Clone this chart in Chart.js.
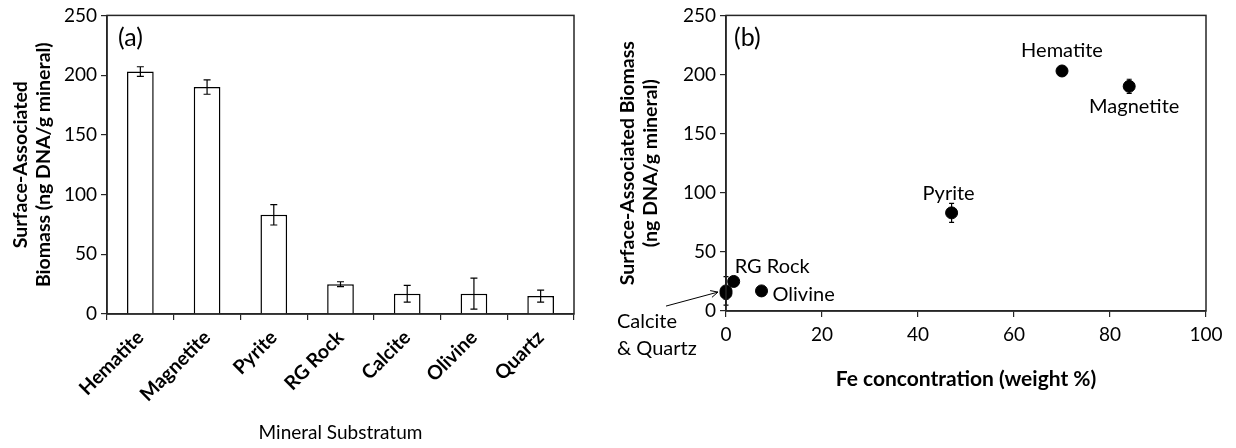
<!DOCTYPE html>
<html>
<head>
<meta charset="utf-8">
<script src="https://cdn.jsdelivr.net/npm/chart.js@4"></script>
<style>
  body { margin: 0; background: #fff; }
  #wrap { position: relative; width: 1236px; height: 448px; }
  #chartA { position: absolute; left: 0; top: 0; }
  #chartB { position: absolute; left: 600px; top: 0; }
</style>
</head>
<body>
<div id="wrap">
  <canvas id="chartA" width="600" height="448"></canvas>
  <canvas id="chartB" width="636" height="448"></canvas>
</div>
<script>
const minerals = ["Hematite", "Magnetite", "Pyrite", "RG Rock", "Calcite", "Olivine", "Quartz"];
const biomass = [203, 190, 83, 25, 17, 17, 15];
const biomassErr = [4, 6, 8.5, 2, 7, 13, 5];
const feConc = [70, 84, 47, 1.6, 0, 7.4, 0];
const biomassErrB = [4, 6, 8, 2, 12, 0, 5];

const FONT = "Lato, 'Open Sans', sans-serif";
const ink = "#000";
const axisColor = "#262626";

Chart.defaults.font.family = FONT;
Chart.defaults.color = ink;

// frame around the plot area (top + right side too)
const boxPlugin = {
  id: "box",
  afterDraw(chart) {
    const { ctx, chartArea: a } = chart;
    ctx.save();
    ctx.strokeStyle = axisColor;
    ctx.lineWidth = 1.5;
    ctx.strokeRect(a.left, a.top, a.right - a.left, a.bottom - a.top);
    ctx.restore();
  },
};

function drawErr(ctx, x, yScale, v, e, cap) {
  if (!e) return;
  const y1 = yScale.getPixelForValue(v + e);
  const y2 = yScale.getPixelForValue(v - e);
  ctx.beginPath();
  ctx.moveTo(x, y1); ctx.lineTo(x, y2);
  ctx.moveTo(x - cap, y1); ctx.lineTo(x + cap, y1);
  ctx.moveTo(x - cap, y2); ctx.lineTo(x + cap, y2);
  ctx.stroke();
}

const errPluginA = {
  id: "errA",
  afterDatasetsDraw(chart) {
    const ctx = chart.ctx;
    const meta = chart.getDatasetMeta(0);
    ctx.save();
    ctx.strokeStyle = ink;
    ctx.lineWidth = 1.2;
    meta.data.forEach((bar, i) => drawErr(ctx, bar.x, chart.scales.y, biomass[i], biomassErr[i], 3.5));
    ctx.fillStyle = ink;
    ctx.font = "25px " + FONT;
    ctx.textBaseline = "middle";
    ctx.fillText("(a)", chart.chartArea.left + 11, chart.chartArea.top + 23);
    ctx.restore();
  },
};

// label placement for panel b: [dx, dy, align]
const labelPos = {
  "Hematite": [0, -20, "center"],
  "Magnetite": [5, 20, "center"],
  "Pyrite": [-3, -19, "center"],
  "RG Rock": [1, -15, "left"],
  "Olivine": [11, 4, "left"],
};

const errPluginB = {
  id: "errB",
  afterDatasetsDraw(chart) {
    const ctx = chart.ctx;
    const xs = chart.scales.x, ys = chart.scales.y;
    ctx.save();
    ctx.strokeStyle = ink;
    ctx.lineWidth = 1.2;
    minerals.forEach((m, i) => drawErr(ctx, xs.getPixelForValue(feConc[i]), ys, biomass[i], biomassErrB[i], 2.5));

    ctx.fillStyle = ink;
    ctx.font = "20px " + FONT;
    ctx.textBaseline = "middle";
    minerals.forEach((m, i) => {
      const p = labelPos[m];
      if (!p) return;
      ctx.textAlign = p[2];
      ctx.fillText(m, xs.getPixelForValue(feConc[i]) + p[0], ys.getPixelForValue(biomass[i]) + p[1]);
    });

    // Calcite & Quartz share x = 0
    const px = xs.getPixelForValue(0), py = ys.getPixelForValue(16);
    ctx.textAlign = "left";
    ctx.fillText("Calcite", px - 109, py + 29);
    ctx.fillText("& Quartz", px - 109, py + 56);
    const sx = px - 60, sy = py + 14, ex = px - 8, ey = py;
    const ang = Math.atan2(ey - sy, ex - sx);
    ctx.lineWidth = 1;
    ctx.beginPath();
    ctx.moveTo(sx, sy); ctx.lineTo(ex, ey);
    ctx.moveTo(ex - 8 * Math.cos(ang - 0.45), ey - 8 * Math.sin(ang - 0.45));
    ctx.lineTo(ex, ey);
    ctx.lineTo(ex - 8 * Math.cos(ang + 0.45), ey - 8 * Math.sin(ang + 0.45));
    ctx.stroke();

    ctx.font = "25px " + FONT;
    ctx.fillText("(b)", chart.chartArea.left + 8, chart.chartArea.top + 23);
    ctx.restore();
  },
};

const tickFont = { size: 19 };
const yTitle = (lines, padTop) => ({
  display: true,
  text: lines,
  font: { size: 19.5, weight: "bold", lineHeight: 1.15 },
  padding: { top: padTop, bottom: 0 },
});

new Chart(document.getElementById("chartA"), {
  type: "bar",
  data: {
    labels: minerals,
    datasets: [{
      data: biomass,
      backgroundColor: "#fff",
      borderColor: ink,
      borderWidth: 1.5,
      barPercentage: 0.4,
      categoryPercentage: 1,
    }],
  },
  options: {
    responsive: false,
    animation: false,
    layout: { padding: { top: 15, right: 26, left: 0, bottom: 0 } },
    plugins: { legend: { display: false }, tooltip: { enabled: false } },
    scales: {
      x: {
        grid: { offset: true, drawOnChartArea: false, tickLength: 6, color: axisColor, lineWidth: 1.2 },
        border: { color: axisColor, width: 1.5 },
        ticks: { font: { size: 19.5, weight: "bold" }, minRotation: 45, maxRotation: 45, autoSkip: false, padding: 6 },
        title: { display: true, text: "Mineral Substratum", font: { size: 19 }, padding: { top: 4, bottom: 4 } },
        afterFit: (s) => { s.height = 134; },
      },
      y: {
        min: 0, max: 250,
        ticks: { stepSize: 50, font: tickFont, padding: 4 },
        grid: { drawOnChartArea: false, tickLength: 6, color: axisColor, lineWidth: 1.2 },
        border: { color: axisColor, width: 1.5 },
        title: yTitle(["Surface-Associated", "Biomass (ng DNA/g mineral)"], 10),
        afterFit: (s) => { s.width = 107; },
      },
    },
  },
  plugins: [boxPlugin, errPluginA],
});

new Chart(document.getElementById("chartB"), {
  type: "scatter",
  data: {
    datasets: [{
      data: minerals.map((m, i) => ({ x: feConc[i], y: biomass[i] })),
      backgroundColor: ink,
      borderColor: ink,
      pointRadius: 6,
      pointHoverRadius: 6,
      clip: false,
    }],
  },
  options: {
    responsive: false,
    animation: false,
    layout: { padding: { top: 14, right: 30, left: 0, bottom: 0 } },
    plugins: { legend: { display: false }, tooltip: { enabled: false } },
    scales: {
      x: {
        type: "linear",
        min: 0, max: 100,
        ticks: { stepSize: 20, font: tickFont, padding: 6 },
        grid: { drawOnChartArea: false, tickLength: 6, color: axisColor, lineWidth: 1.2 },
        border: { color: axisColor, width: 1.5 },
        title: { display: true, text: "Fe concontration (weight %)", font: { size: 21, weight: "bold" }, padding: { top: 4, bottom: 56 } },
        afterFit: (s) => { s.height = 137; },
      },
      y: {
        min: 0, max: 250,
        ticks: { stepSize: 50, font: tickFont, padding: 4 },
        grid: { drawOnChartArea: false, tickLength: 6, color: axisColor, lineWidth: 1.2 },
        border: { color: axisColor, width: 1.5 },
        title: yTitle(["Surface-Associated Biomass", "(ng DNA/g mineral)"], 17),
        afterFit: (s) => { s.width = 126; },
      },
    },
  },
  plugins: [boxPlugin, errPluginB],
});
</script>
</body>
</html>
